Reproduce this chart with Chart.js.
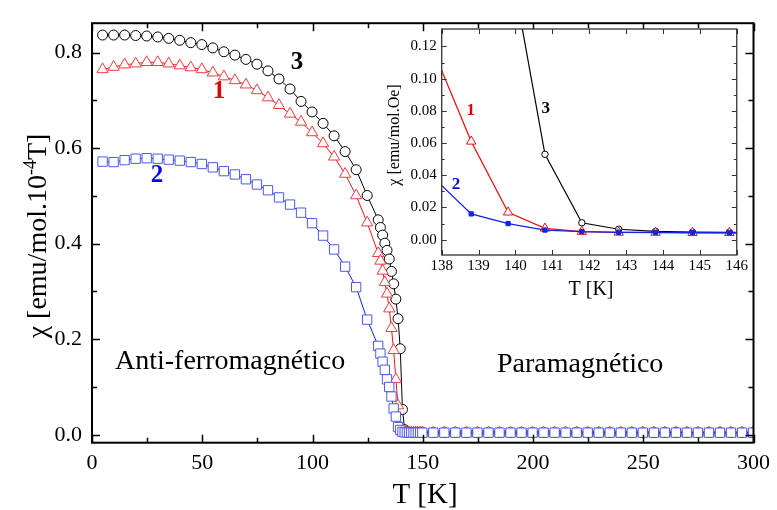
<!DOCTYPE html>
<html>
<head>
<meta charset="utf-8">
<script src="https://cdn.jsdelivr.net/npm/chart.js@4.4.0/dist/chart.umd.min.js"></script>
<style>
  html, body { margin: 0; padding: 0; background: #fff; }
  #wrap { position: relative; width: 777px; height: 510px; overflow: hidden; }
  #main { position: absolute; left: 0; top: 0; }
  #inset { position: absolute; left: 378px; top: 15px; }
</style>
</head>
<body>
<div id="wrap">
  <canvas id="main" width="777" height="510"></canvas>
  <canvas id="inset" width="372" height="290"></canvas>
</div>
<script>
// Temperature grid of the measurement [K]
const temperature = [
  4.8, 9.8, 14.8, 19.8, 24.8, 29.8, 34.8, 39.8, 44.8, 49.8, 54.8, 59.8, 64.8,
  69.8, 74.8, 79.8, 84.8, 89.8, 94.8, 99.8, 104.8, 109.8, 114.8, 119.8, 124.8,
  129.8, 130.8, 131.8, 132.8, 133.8, 134.8, 135.8, 136.8, 137.8, 138.8, 139.8,
  140.8, 141.8, 142.8, 143.8, 144.8, 145.8, 146.8, 147.8, 148.8, 149.8,
  154.8, 159.8, 164.8, 169.8, 174.8, 179.8, 184.8, 189.8, 194.8, 199.8, 204.8,
  209.8, 214.8, 219.8, 224.8, 229.8, 234.8, 239.8, 244.8, 249.8, 254.8, 259.8,
  264.8, 269.8, 274.8, 279.8, 284.8, 289.8, 294.8, 299.8
];

// Sample 1 (red triangles)
const chiSample1 = [
  0.765, 0.770, 0.775, 0.777, 0.780, 0.780, 0.777, 0.773, 0.769, 0.765, 0.758, 0.750, 0.742,
  0.733, 0.721, 0.706, 0.690, 0.672, 0.655, 0.633, 0.610, 0.582, 0.546, 0.501, 0.444,
  0.380, 0.364, 0.343, 0.319, 0.295, 0.264, 0.223, 0.177, 0.116, 0.061, 0.017,
  0.007, 0.0050, 0.0045, 0.0044, 0.0043, 0.0043, 0.0043, 0.0043, 0.0043, 0.0043,
  0.0043, 0.0043, 0.0043, 0.0043, 0.0043, 0.0043, 0.0043, 0.0043, 0.0043, 0.0043, 0.0043,
  0.0043, 0.0043, 0.0043, 0.0043, 0.0043, 0.0043, 0.0043, 0.0043, 0.0043, 0.0043, 0.0043,
  0.0043, 0.0043, 0.0043, 0.0043, 0.0043, 0.0043, 0.0043, 0.0043
];

// Sample 2 (blue squares)
const chiSample2 = [
  0.572, 0.571, 0.575, 0.578, 0.579, 0.578, 0.576, 0.574, 0.571, 0.567, 0.560, 0.552, 0.545,
  0.535, 0.524, 0.512, 0.497, 0.482, 0.465, 0.443, 0.417, 0.388, 0.352, 0.309, 0.241,
  0.186, 0.170, 0.153, 0.136, 0.116, 0.100, 0.080, 0.055, 0.038, 0.016, 0.010,
  0.006, 0.0050, 0.0046, 0.0045, 0.0044, 0.0043, 0.0043, 0.0043, 0.0043, 0.0043,
  0.0043, 0.0043, 0.0043, 0.0043, 0.0043, 0.0043, 0.0043, 0.0043, 0.0043, 0.0043, 0.0043,
  0.0043, 0.0043, 0.0043, 0.0043, 0.0043, 0.0043, 0.0043, 0.0043, 0.0043, 0.0043, 0.0043,
  0.0043, 0.0043, 0.0043, 0.0043, 0.0043, 0.0043, 0.0043, 0.0043
];

// Sample 3 (black circles)
const chiSample3 = [
  0.837, 0.837, 0.837, 0.836, 0.835, 0.833, 0.830, 0.826, 0.821, 0.817, 0.810, 0.802, 0.795,
  0.786, 0.776, 0.762, 0.745, 0.724, 0.698, 0.676, 0.652, 0.626, 0.593, 0.555, 0.501,
  0.450, 0.434, 0.418, 0.401, 0.386, 0.368, 0.342, 0.316, 0.284, 0.243, 0.180,
  0.053, 0.0105, 0.0065, 0.0052, 0.0047, 0.0046, 0.0046, 0.0045, 0.0045, 0.0045,
  0.0045, 0.0045, 0.0045, 0.0045, 0.0045, 0.0045, 0.0045, 0.0045, 0.0045, 0.0045, 0.0045,
  0.0045, 0.0045, 0.0045, 0.0045, 0.0045, 0.0045, 0.0045, 0.0045, 0.0045, 0.0045, 0.0045,
  0.0045, 0.0045, 0.0045, 0.0045, 0.0045, 0.0045, 0.0045, 0.0045
];

// Axis ticks, main plot
const mainXTicks = [0, 50, 100, 150, 200, 250, 300];
const mainXMinor = [25, 75, 125, 175, 225, 275];
const mainYTicks = [0.0, 0.2, 0.4, 0.6, 0.8];
const mainYMinor = [0.1, 0.3, 0.5, 0.7];

// Axis ticks, zoomed plot around the transition
const insetXTicks = [138, 139, 140, 141, 142, 143, 144, 145, 146];
const insetYTicks = [0.00, 0.02, 0.04, 0.06, 0.08, 0.10, 0.12];
const insetYMinor = [0.01, 0.03, 0.05, 0.07, 0.09, 0.11];

const SERIF = "'Liberation Serif', 'Times New Roman', serif";
const RED = 'rgb(232,20,20)';
const RED_MARK = 'rgb(240,60,60)';
const BLUE = 'rgb(20,35,225)';
const BLUE_MARK = 'rgb(75,90,230)';

function points(values) {
  return temperature.map((t, i) => ({ x: t, y: values[i] }));
}

function fixTicks(list) {
  return scale => { scale.ticks = list.map(v => ({ value: v })); };
}

// Inward tick marks on all four sides plus the closed frame
function frameTicks(id, o) {
  return {
    id,
    afterDatasetsDraw(chart) {
      const { ctx, chartArea: a } = chart;
      const x = chart.scales.x, y = chart.scales.y;
      ctx.save();
      ctx.strokeStyle = o.color;
      ctx.lineWidth = o.tickWidth;
      ctx.beginPath();
      const vTick = (v, len) => {
        const px = Math.round(x.getPixelForValue(v)) + 0.5;
        ctx.moveTo(px, a.bottom); ctx.lineTo(px, a.bottom - len);
        ctx.moveTo(px, a.top); ctx.lineTo(px, a.top + len);
      };
      const hTick = (v, len) => {
        const py = Math.round(y.getPixelForValue(v)) + 0.5;
        ctx.moveTo(a.left, py); ctx.lineTo(a.left + len, py);
        ctx.moveTo(a.right, py); ctx.lineTo(a.right - len, py);
      };
      o.xMajor.forEach(v => vTick(v, o.major));
      o.xMinor.forEach(v => vTick(v, o.minor));
      o.yMajor.forEach(v => hTick(v, o.major));
      o.yMinor.forEach(v => hTick(v, o.minor));
      ctx.stroke();
      ctx.lineWidth = o.frameWidth;
      ctx.strokeRect(a.left, a.top, a.right - a.left, a.bottom - a.top);
      ctx.restore();
    }
  };
}

// Free text: axis titles, curve numbers and region names
function annotations(id, draw) {
  return { id, afterDraw(chart) { const ctx = chart.ctx; ctx.save(); draw(ctx, chart); ctx.restore(); } };
}

function drawRotatedTitle(ctx, cx, cy, parts, capShift) {
  ctx.translate(cx, cy);
  ctx.rotate(-Math.PI / 2);
  ctx.textBaseline = 'alphabetic';
  ctx.textAlign = 'left';
  let total = 0;
  parts.forEach(p => { ctx.font = p.font; p.w = ctx.measureText(p.text).width; total += p.w; });
  let pos = -total / 2;
  parts.forEach(p => {
    ctx.font = p.font;
    ctx.fillText(p.text, pos, capShift + (p.rise || 0));
    pos += p.w;
  });
}

const mainChart = new Chart(document.getElementById('main'), {
  type: 'scatter',
  data: {
    datasets: [
      {
        label: '2', data: points(chiSample2), showLine: true,
        borderColor: BLUE, borderWidth: 1,
        pointStyle: 'rect', pointRadius: 6.6, pointBorderWidth: 1,
        pointBorderColor: BLUE_MARK, pointBackgroundColor: '#fff'
      },
      {
        label: '1', data: points(chiSample1), showLine: true,
        borderColor: RED, borderWidth: 1,
        pointStyle: 'triangle', pointRadius: 6.5, pointBorderWidth: 1,
        pointBorderColor: RED_MARK, pointBackgroundColor: '#fff'
      },
      {
        label: '3', data: points(chiSample3), showLine: true,
        borderColor: '#000', borderWidth: 1,
        pointStyle: 'circle', pointRadius: 5, pointBorderWidth: 1,
        pointBorderColor: '#000', pointBackgroundColor: '#fff'
      }
    ]
  },
  options: {
    responsive: false,
    animation: false,
    events: [],
    layout: { padding: { left: 0, right: 19.5, top: 12, bottom: 0 } },
    plugins: { legend: { display: false }, tooltip: { enabled: false } },
    scales: {
      x: {
        type: 'linear', min: 0, max: 300,
        afterFit: s => { s.height = 67.3; },
        afterBuildTicks: fixTicks(mainXTicks),
        grid: { display: false, drawTicks: false },
        border: { display: false },
        ticks: {
          autoSkip: false, maxRotation: 0, padding: 7,
          color: '#000', font: { family: SERIF, size: 22 },
          callback: v => String(v)
        }
      },
      y: {
        type: 'linear', min: -0.0167, max: 0.8618,
        afterFit: s => { s.width = 92; },
        afterBuildTicks: fixTicks(mainYTicks),
        grid: { display: false, drawTicks: false },
        border: { display: false },
        ticks: {
          padding: 10, color: '#000', font: { family: SERIF, size: 22 },
          callback: v => Number(v).toFixed(1)
        }
      }
    }
  },
  plugins: [
    frameTicks('mainFrame', {
      color: '#000', tickWidth: 1.5, frameWidth: 2, major: 8, minor: 5,
      xMajor: mainXTicks, xMinor: mainXMinor, yMajor: mainYTicks, yMinor: mainYMinor
    }),
    annotations('mainText', ctx => {
      ctx.fillStyle = '#000';
      drawRotatedTitle(ctx, 37, 236, [
        { text: 'χ [emu/mol.10', font: `28px ${SERIF}` },
        { text: '-4', font: `18px ${SERIF}`, rise: -10 },
        { text: 'T]', font: `28px ${SERIF}` }
      ], 9);
      ctx.setTransform(1, 0, 0, 1, 0, 0);
      ctx.textAlign = 'center';
      ctx.textBaseline = 'alphabetic';
      ctx.font = `29px ${SERIF}`;
      ctx.fillText('T [K]', 425, 503);

      ctx.textAlign = 'left';
      ctx.font = `28px ${SERIF}`;
      ctx.fillText('Anti-ferromagnético', 115, 369);
      ctx.fillText('Paramagnético', 497, 372);

      ctx.textAlign = 'center';
      ctx.textBaseline = 'middle';
      ctx.font = `bold 25px ${SERIF}`;
      ctx.fillStyle = '#000';
      ctx.fillText('3', 297, 63);
      ctx.fillStyle = 'rgb(230,0,0)';
      ctx.fillText('1', 219, 92);
      ctx.fillStyle = 'rgb(10,10,220)';
      ctx.fillText('2', 157, 176);
    })
  ]
});

const insetChart = new Chart(document.getElementById('inset'), {
  type: 'scatter',
  data: {
    datasets: [
      {
        label: '2', data: points(chiSample2), showLine: true,
        borderColor: BLUE, borderWidth: 1.3,
        pointStyle: 'rect', pointRadius: 3, pointBorderWidth: 1,
        pointBorderColor: BLUE, pointBackgroundColor: BLUE
      },
      {
        label: '1', data: points(chiSample1), showLine: true,
        borderColor: RED, borderWidth: 1.3,
        pointStyle: 'triangle', pointRadius: 5.4, pointBorderWidth: 1,
        pointBorderColor: RED, pointBackgroundColor: '#fff'
      },
      {
        label: '3', data: points(chiSample3), showLine: true,
        borderColor: '#000', borderWidth: 1.2,
        pointStyle: 'circle', pointRadius: 3.2, pointBorderWidth: 1,
        pointBorderColor: '#000', pointBackgroundColor: '#fff'
      }
    ]
  },
  options: {
    responsive: false,
    animation: false,
    events: [],
    layout: { padding: { left: 0, right: 11.3, top: 9.3, bottom: 0 } },
    plugins: { legend: { display: false }, tooltip: { enabled: false } },
    scales: {
      x: {
        type: 'linear', min: 138, max: 146,
        afterFit: s => { s.height = 50; },
        afterBuildTicks: fixTicks(insetXTicks),
        grid: { display: false, drawTicks: false },
        border: { display: false },
        ticks: {
          autoSkip: false, maxRotation: 0, padding: 2,
          color: '#000', font: { family: SERIF, size: 15 },
          callback: v => String(v)
        }
      },
      y: {
        type: 'linear', min: -0.0095, max: 0.1308,
        afterFit: s => { s.width = 63.7; },
        afterBuildTicks: fixTicks(insetYTicks),
        grid: { display: false, drawTicks: false },
        border: { display: false },
        ticks: {
          padding: 5, color: '#000', font: { family: SERIF, size: 15 },
          callback: v => Number(v).toFixed(2)
        }
      }
    }
  },
  plugins: [
    {
      id: 'insetBackground',
      beforeDatasetsDraw(chart) {
        const { ctx, chartArea: a } = chart;
        ctx.save();
        ctx.fillStyle = '#fff';
        ctx.fillRect(a.left, a.top, a.right - a.left, a.bottom - a.top);
        ctx.restore();
      }
    },
    frameTicks('insetFrame', {
      color: '#333', tickWidth: 1, frameWidth: 1.3, major: 5, minor: 3,
      xMajor: insetXTicks, xMinor: [], yMajor: insetYTicks, yMinor: insetYMinor
    }),
    annotations('insetText', ctx => {
      ctx.fillStyle = '#000';
      drawRotatedTitle(ctx, 15, 120, [
        { text: 'χ [emu/mol.Oe]', font: `16px ${SERIF}` }
      ], 5.5);
      ctx.setTransform(1, 0, 0, 1, 0, 0);
      ctx.textAlign = 'center';
      ctx.textBaseline = 'alphabetic';
      ctx.font = `20px ${SERIF}`;
      ctx.fillText('T [K]', 213, 280);

      ctx.textBaseline = 'middle';
      ctx.font = `bold 17px ${SERIF}`;
      ctx.fillStyle = 'rgb(230,0,0)';
      ctx.fillText('1', 92.7, 96);
      ctx.fillStyle = '#000';
      ctx.fillText('3', 167.7, 94);
      ctx.fillStyle = 'rgb(10,10,220)';
      ctx.fillText('2', 78, 170);
    })
  ]
});
</script>
</body>
</html>
